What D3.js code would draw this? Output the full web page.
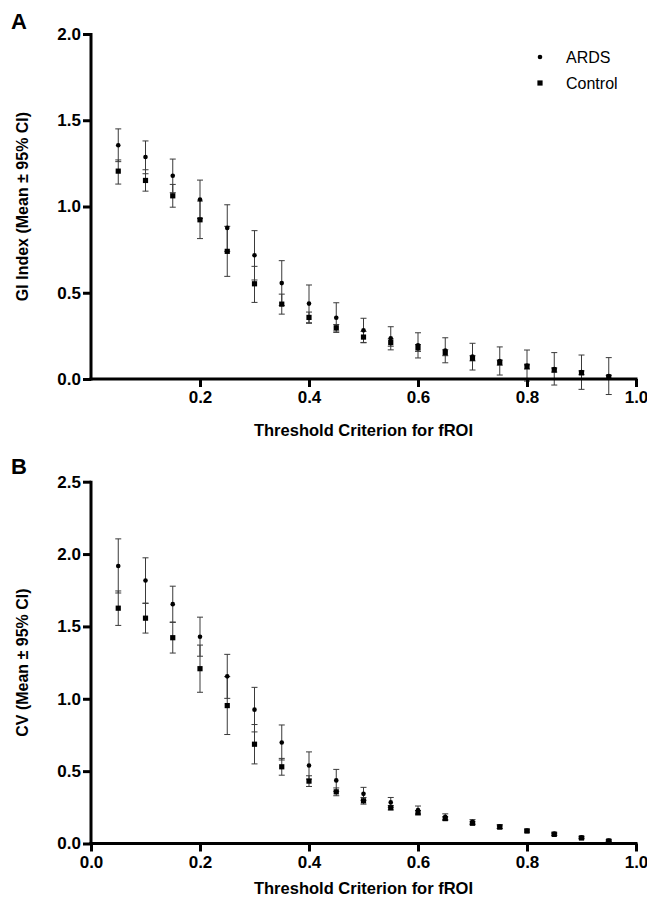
<!DOCTYPE html>
<html>
<head>
<meta charset="utf-8">
<script src="https://cdn.jsdelivr.net/npm/d3@7"></script>
<style>
  html, body { margin: 0; padding: 0; background: #fff; }
  svg { display: block; }
  text { font-family: "Liberation Sans", Arial, sans-serif; fill: #000; }
</style>
</head>
<body>
<svg id="chart" width="647" height="903"></svg>
<script>
// ---------- data ----------
const thresholds = [0.05,0.10,0.15,0.20,0.25,0.30,0.35,0.40,0.45,0.50,0.55,0.60,0.65,0.70,0.75,0.80,0.85,0.90,0.95];

// Panel A: GI Index
const giArdsMean = [1.355,1.287,1.178,1.041,0.876,0.717,0.556,0.437,0.355,0.282,0.236,0.195,0.165,0.13,0.104,0.078,0.058,0.04,0.017];
const giArdsLo   = [1.26,1.19,1.08,0.93,0.74,0.574,0.426,0.323,0.27,0.212,0.169,0.122,0.094,0.052,0.023,-0.012,-0.035,-0.06,-0.09];
const giArdsHi   = [1.45,1.38,1.275,1.153,1.01,0.86,0.686,0.545,0.442,0.352,0.303,0.268,0.239,0.207,0.186,0.168,0.153,0.139,0.124];
const giCtrlMean = [1.205,1.151,1.062,0.923,0.74,0.552,0.434,0.357,0.297,0.243,0.211,0.18,0.152,0.12,0.095,0.072,0.052,0.036,0.012];
const giCtrlLo   = [1.13,1.089,0.996,0.814,0.595,0.444,0.376,0.326,0.278,0.21,0.19,0.16,0.135,0.105,0.08,0.058,0.04,0.025,0.003];
const giCtrlHi   = [1.27,1.213,1.128,1.032,0.885,0.653,0.492,0.388,0.316,0.276,0.232,0.2,0.17,0.135,0.11,0.086,0.064,0.047,0.021];

// Panel B: CV
const cvArdsMean = [1.918,1.817,1.654,1.429,1.155,0.925,0.698,0.539,0.436,0.343,0.284,0.232,0.185,0.15,0.118,0.09,0.068,0.042,0.02];
const cvArdsLo   = [1.731,1.66,1.53,1.294,1.003,0.771,0.577,0.445,0.36,0.298,0.25,0.205,0.165,0.135,0.105,0.08,0.058,0.034,0.013];
const cvArdsHi   = [2.105,1.974,1.778,1.564,1.307,1.079,0.819,0.633,0.512,0.388,0.318,0.259,0.205,0.165,0.131,0.1,0.078,0.05,0.027];
const cvCtrlMean = [1.626,1.557,1.422,1.208,0.953,0.686,0.53,0.431,0.357,0.295,0.247,0.213,0.172,0.14,0.113,0.086,0.063,0.038,0.017];
const cvCtrlLo   = [1.507,1.454,1.316,1.045,0.753,0.55,0.472,0.394,0.33,0.272,0.232,0.198,0.16,0.13,0.104,0.078,0.056,0.032,0.012];
const cvCtrlHi   = [1.745,1.66,1.528,1.371,1.153,0.822,0.588,0.468,0.384,0.318,0.262,0.228,0.184,0.15,0.122,0.094,0.07,0.044,0.022];

const seriesNames = ["ARDS","Control"];
const xTickValsA = [0.2,0.4,0.6,0.8,1.0];
const xTickValsB = [0.0,0.2,0.4,0.6,0.8,1.0];
const yTickValsA = [0.0,0.5,1.0,1.5,2.0];
const yTickValsB = [0.0,0.5,1.0,1.5,2.0,2.5];

// ---------- drawing ----------
const svg = d3.select("#chart");

function panel(cfg) {
  const g = svg.append("g");
  const x = d3.scaleLinear().domain([0, 1]).range([91, 636]);
  const y = d3.scaleLinear().domain(cfg.yDomain).range([cfg.y0, cfg.yTop]);

  // panel letter
  g.append("text").attr("x", 11).attr("y", cfg.letterY)
    .style("font-size", "22px").style("font-weight", "bold").text(cfg.letter);

  const rows = thresholds.map((t, i) => ({t, i}));

  // error bars
  function errbars(lo, hi) {
    const eb = g.append("g").attr("stroke", "#3a3a3a").attr("stroke-width", 1).attr("fill", "none");
    rows.forEach(({t, i}) => {
      const cx = x(t);
      eb.append("line").attr("x1", cx).attr("x2", cx).attr("y1", y(lo[i])).attr("y2", y(hi[i]));
      eb.append("line").attr("x1", cx - 3).attr("x2", cx + 3).attr("y1", y(lo[i])).attr("y2", y(lo[i]));
      eb.append("line").attr("x1", cx - 3).attr("x2", cx + 3).attr("y1", y(hi[i])).attr("y2", y(hi[i]));
    });
  }
  errbars(cfg.ardsLo, cfg.ardsHi);
  errbars(cfg.ctrlLo, cfg.ctrlHi);

  // markers
  g.append("g").selectAll("rect").data(rows).join("rect")
    .attr("x", d => x(d.t) - 2.6).attr("y", d => y(cfg.ctrlMean[d.i]) - 2.6)
    .attr("width", 5.2).attr("height", 5.2).attr("fill", "#000");
  g.append("g").selectAll("circle").data(rows).join("circle")
    .attr("cx", d => x(d.t)).attr("cy", d => y(cfg.ardsMean[d.i]))
    .attr("r", 2.3).attr("fill", "#000");

  // axes
  const xAxis = d3.axisBottom(x).tickValues(cfg.xTicks).tickSize(8).tickPadding(4)
    .tickFormat(d3.format(".1f"));
  const gx = g.append("g").attr("transform", `translate(0,${cfg.y0})`).call(xAxis);
  const yAxis = d3.axisLeft(y).tickValues(cfg.yTicks).tickSize(8).tickPadding(2)
    .tickFormat(d3.format(".1f"));
  const gy = g.append("g").attr("transform", `translate(91,0)`).call(yAxis);
  [gx, gy].forEach(a => {
    a.select(".domain").attr("stroke", "#000").attr("stroke-width", 3);
    a.selectAll(".tick line").attr("stroke", "#000").attr("stroke-width", 3);
    a.selectAll(".tick text").style("font-size", "17px").style("font-weight", "bold")
      .style("font-family", "'Liberation Sans', Arial, sans-serif").attr("fill", "#000");
  });
  gx.select(".domain").attr("d", `M${x(0)-1.5},0H${x(1)+1.5}`);
  gy.select(".domain").attr("d", `M0,${y(0)+1.5}V${cfg.yTop-1}`);

  // axis titles
  g.append("text").attr("x", (x(0) + x(1)) / 2).attr("y", cfg.xTitleY)
    .attr("text-anchor", "middle").style("font-size", "16.5px").style("font-weight", "bold")
    .text("Threshold Criterion for fROI");
  g.append("text").attr("transform", `translate(28,${(cfg.y0 + cfg.yTop) / 2}) rotate(-90)`)
    .attr("text-anchor", "middle").style("font-size", "16px").style("font-weight", "bold")
    .text(cfg.yTitle);

  return {x, y, g};
}

const pA = panel({
  letter: "A", letterY: 29, yDomain: [0, 2], y0: 379, yTop: 34,
  xTicks: xTickValsA, yTicks: yTickValsA, xTitleY: 436,
  yTitle: "GI Index (Mean ± 95% CI)",
  ardsMean: giArdsMean, ardsLo: giArdsLo, ardsHi: giArdsHi,
  ctrlMean: giCtrlMean, ctrlLo: giCtrlLo, ctrlHi: giCtrlHi
});

const pB = panel({
  letter: "B", letterY: 474, yDomain: [0, 2.5], y0: 843.5, yTop: 481.7,
  xTicks: xTickValsB, yTicks: yTickValsB, xTitleY: 894,
  yTitle: "CV (Mean ± 95% CI)",
  ardsMean: cvArdsMean, ardsLo: cvArdsLo, ardsHi: cvArdsHi,
  ctrlMean: cvCtrlMean, ctrlLo: cvCtrlLo, ctrlHi: cvCtrlHi
});

// legend (panel A)
const leg = svg.append("g");
seriesNames.forEach((name, i) => {
  const ly = 57 + i * 26;
  if (i === 0) leg.append("circle").attr("cx", 540).attr("cy", ly).attr("r", 2.3).attr("fill", "#000");
  else leg.append("rect").attr("x", 537.4).attr("y", ly - 2.6).attr("width", 5.2).attr("height", 5.2).attr("fill", "#000");
  leg.append("text").attr("x", 566).attr("y", ly + 5.5).style("font-size", "16px").text(name);
});
</script>
</body>
</html>
